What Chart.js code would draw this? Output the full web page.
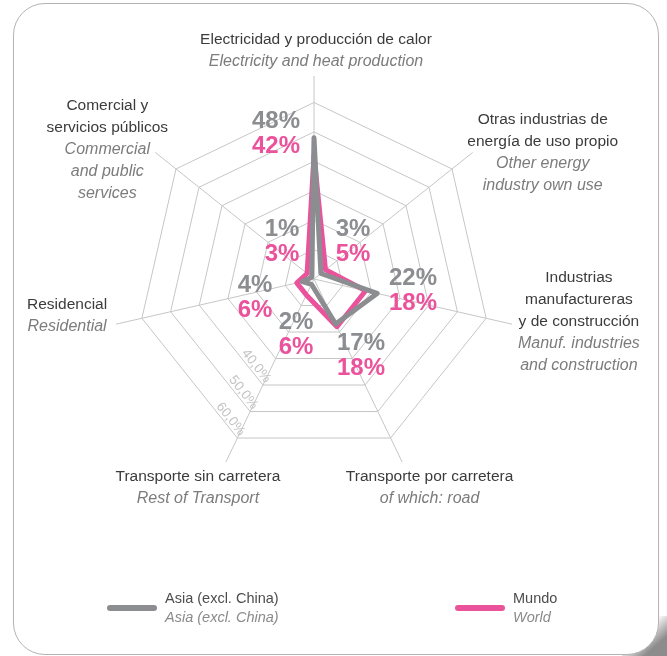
<!DOCTYPE html>
<html><head><meta charset="utf-8">
<script src="https://cdn.jsdelivr.net/npm/chart.js@4.4.0/dist/chart.umd.min.js"></script>
<style>
html,body{margin:0;padding:0;background:#fff;width:667px;height:656px;overflow:hidden}
#shadow{position:absolute;left:622px;top:616px;width:45px;height:40px;background:linear-gradient(to bottom right, rgba(140,140,140,0) 40%, #8c8c8c 75%)}
#frame{position:absolute;left:13px;top:3px;width:646px;height:652px;box-sizing:border-box;border:1px solid #b4b4b4;border-radius:32px;background:#fff}
canvas{position:absolute;left:0;top:0}
</style></head>
<body>
<div id="shadow"></div><div id="frame"></div>
<canvas id="c" width="667" height="656"></canvas>
<script>
// ---- data ----
const categoriesEs = [
  ["Electricidad y producción de calor"],
  ["Otras industrias de","energía de uso propio"],
  ["Industrias","manufactureras","y de construcción"],
  ["Transporte por carretera"],
  ["Transporte sin carretera"],
  ["Residencial"],
  ["Comercial y","servicios públicos"]
];
const categoriesEn = [
  ["Electricity and heat production"],
  ["Other energy","industry own use"],
  ["Manuf. industries","and construction"],
  ["of which: road"],
  ["Rest of Transport"],
  ["Residential"],
  ["Commercial","and public","services"]
];
const asiaValues  = [48, 3, 22, 17, 2, 4, 1];
const worldValues = [42, 5, 18, 18, 6, 6, 3];
const tickValues  = [40, 50, 60];
const tickLabels  = ["40,0%", "50,0%", "60,0%"];
const seriesNames = [["Asia (excl. China)","Asia (excl. China)"], ["Mundo","World"]];

// ---- styles / layout ----
const asiaColor = '#8c8d91';
const worldColor = '#eb529c';
const FONT = '"Liberation Sans", Arial, sans-serif';
// offsets of first label line from the spoke end
const pointLabelOffsets = [[2,-36],[70,-32.5],[67,-46],[27.5,15],[-28,15],[-49,-19],[-48,-46.5]];
// value label block centres relative to chart centre
const valueLabelOffsets = [[-38,-145],[39,-37],[99,12],[47,76.5],[-18,56],[-59,18.5],[-32,-37]];

const labelPlugin = {
  id: 'customLabels',
  afterDraw(chart) {
    const ctx = chart.ctx;
    const s = chart.scales.r;
    const R = s.drawingArea;
    ctx.save();
    // tick labels along lower-left ring edge
    ctx.fillStyle = '#c3c3c3';
    ctx.font = '13.5px ' + FONT;
    tickValues.forEach((v, k) => {
      const r = s.getDistanceFromCenterForValue(v);
      const P = s.getPointPosition(4, r);
      const Q = s.getPointPosition(5, r);
      const th = Math.atan2(P.y - Q.y, P.x - Q.x);
      const nx = Math.sin(th), ny = -Math.cos(th);
      ctx.save();
      ctx.translate(P.x + nx * 6.5, P.y + ny * 6.5);
      ctx.rotate(th);
      ctx.textAlign = 'right';
      ctx.textBaseline = 'middle';
      ctx.fillText(tickLabels[k], 0, 0);
      ctx.restore();
    });
    // category labels
    const LH = 21.8;
    ctx.textAlign = 'center';
    ctx.textBaseline = 'middle';
    categoriesEs.forEach((es, i) => {
      const P = s.getPointPosition(i, R);
      const x = P.x + pointLabelOffsets[i][0];
      let y = P.y + pointLabelOffsets[i][1];
      ctx.font = '15.5px ' + FONT;
      ctx.fillStyle = '#3b3b3b';
      es.forEach(line => { ctx.fillText(line, x, y); y += LH; });
      ctx.font = 'italic 16px ' + FONT;
      ctx.fillStyle = '#7c7c7c';
      categoriesEn[i].forEach(line => { ctx.fillText(line, x, y); y += LH; });
    });
    // value labels
    ctx.font = 'bold 24px ' + FONT;
    asiaValues.forEach((v, i) => {
      const x = s.xCenter + valueLabelOffsets[i][0];
      const y = s.yCenter + valueLabelOffsets[i][1];
      ctx.fillStyle = asiaColor;
      ctx.fillText(v + '%', x, y - 12.5);
      ctx.fillStyle = worldColor;
      ctx.fillText(worldValues[i] + '%', x, y + 12.5);
    });
    // legend
    const legendX = [107, 455];
    const legendY = 608;
    chart.data.datasets.forEach((ds, k) => {
      const x0 = legendX[k];
      ctx.strokeStyle = ds.borderColor;
      ctx.lineWidth = 6;
      ctx.lineCap = 'round';
      ctx.beginPath();
      ctx.moveTo(x0 + 3, legendY);
      ctx.lineTo(x0 + 47, legendY);
      ctx.stroke();
      ctx.textAlign = 'left';
      ctx.font = '14.5px ' + FONT;
      ctx.fillStyle = '#4d4d4d';
      ctx.fillText(seriesNames[k][0], x0 + 58, legendY - 9);
      ctx.font = 'italic 14.5px ' + FONT;
      ctx.fillStyle = '#8a8a8a';
      ctx.fillText(seriesNames[k][1], x0 + 58, legendY + 10);
    });
    ctx.restore();
  }
};

new Chart(document.getElementById('c'), {
  type: 'radar',
  data: {
    labels: categoriesEs.map(a => a.join(' ')),
    datasets: [
      { label: seriesNames[0][0], data: asiaValues, borderColor: asiaColor, borderWidth: 5,
        fill: false, pointRadius: 0, borderJoinStyle: 'round', tension: 0 },
      { label: seriesNames[1][0], data: worldValues, borderColor: worldColor, borderWidth: 5,
        fill: false, pointRadius: 0, borderJoinStyle: 'round', tension: 0 }
    ]
  },
  options: {
    responsive: false,
    animation: false,
    layout: { padding: { left: 111, right: 150, top: 76, bottom: 174 } },
    plugins: { legend: { display: false }, tooltip: { enabled: false } },
    scales: {
      r: {
        min: 0, max: 69,
        ticks: { display: false, stepSize: 10 },
        pointLabels: { display: false },
        grid: { color: c => (c.tick && c.tick.value > 65) ? 'rgba(0,0,0,0)' : '#c6c6c6', lineWidth: 1 },
        angleLines: { color: '#c6c6c6', lineWidth: 1 }
      }
    }
  },
  plugins: [labelPlugin]
});
</script></body></html>
